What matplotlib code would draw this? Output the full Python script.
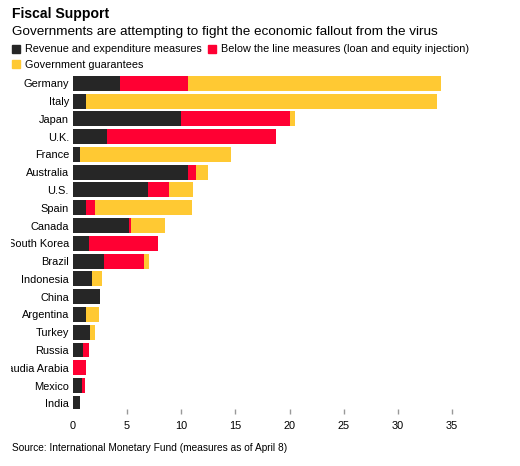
import matplotlib
matplotlib.use("Agg")
import matplotlib.pyplot as plt
from matplotlib.patches import Patch
from matplotlib.transforms import Bbox
import numpy as np

plt.rcParams['font.family'] = ['Liberation Sans', 'DejaVu Sans']

countries = ["Germany", "Italy", "Japan", "U.K.", "France", "Australia", "U.S.",
             "Spain", "Canada", "South Korea", "Brazil", "Indonesia", "China",
             "Argentina", "Turkey", "Russia", "Saudia Arabia", "Mexico", "India"]
revenue = [4.34, 1.2, 9.97, 3.14, 0.65, 10.62, 6.92, 1.2, 5.17, 1.48, 2.86, 1.75,
           2.49, 1.2, 1.57, 0.92, 0.0, 0.83, 0.65]
below_line = [6.28, 0.0, 10.06, 15.6, 0.0, 0.73, 1.94, 0.83, 0.18, 6.37, 3.69, 0.0,
              0.0, 0.0, 0.0, 0.56, 1.2, 0.28, 0.0]
guarantees = [23.35, 32.4, 0.47, 0.0, 13.93, 1.11, 2.22, 8.95, 3.14, 0.0, 0.47, 0.93,
              0.0, 1.2, 0.46, 0.0, 0.0, 0.0, 0.0]
xticks = [0, 5, 10, 15, 20, 25, 30, 35]

c_dark = "#262626"
c_red = "#ff0033"
c_yellow = "#ffc933"

W, H = 520, 466
fig = plt.figure(figsize=(W / 100, H / 100), dpi=100)
ax = fig.add_axes([73 / W, 1 - 409 / H, (452 - 73) / W, (409 - 74.4) / H])

y = np.arange(len(countries))
rev = np.array(revenue)
bl = np.array(below_line)
gu = np.array(guarantees)
bh = 0.84
ax.barh(y, rev, height=bh, color=c_dark, linewidth=0)
ax.barh(y, bl, left=rev, height=bh, color=c_red, linewidth=0)
ax.barh(y, gu, left=rev + bl, height=bh, color=c_yellow, linewidth=0)

ax.set_xlim(0, 35)
ax.set_ylim(18.32, -0.5)
ax.set_yticks(y)
ax.set_yticklabels(countries, fontsize=7.9, color="black")
ax.set_xticks(xticks)
ax.set_xticklabels([str(t) for t in xticks], fontsize=7.9, color="black")
ax.tick_params(axis="y", length=0, pad=2.9)
ax.tick_params(axis="x", length=3.6, width=1.0, color="#999999", pad=5)
ax.xaxis.get_major_ticks()[0].tick1line.set_visible(False)
for s in ax.spines.values():
    s.set_visible(False)

clip = Bbox.from_extents(10.5, 0, W, H)
for lab in ax.get_yticklabels():
    lab.set_clip_box(clip)
    lab.set_clip_on(True)

fig.text(12 / W, 1 - 14 / H, "Fiscal Support", fontsize=10.1, fontweight="bold",
         va="center", ha="left")
fig.text(12 / W, 1 - 32 / H, "Governments are attempting to fight the economic fallout from the virus",
         fontsize=9.7, va="center", ha="left")

handles = [Patch(color=c_dark, label="Revenue and expenditure measures"),
           Patch(color=c_yellow, label="Government guarantees"),
           Patch(color=c_red, label="Below the line measures (loan and equity injection)")]
leg = fig.legend(handles=handles, ncol=2, loc="upper left",
                 bbox_to_anchor=(12 / W, 1 - 44.5 / H), frameon=False,
                 fontsize=7.8, handlelength=0.75, handleheight=0.75,
                 handletextpad=0.45, columnspacing=0.6, labelspacing=0.5,
                 borderpad=0, borderaxespad=0)

fig.text(12 / W, 1 - 448 / H, "Source: International Monetary Fund (measures as of April 8)",
         fontsize=7.3, va="center", ha="left")

fig.savefig("out.png", dpi=100)
